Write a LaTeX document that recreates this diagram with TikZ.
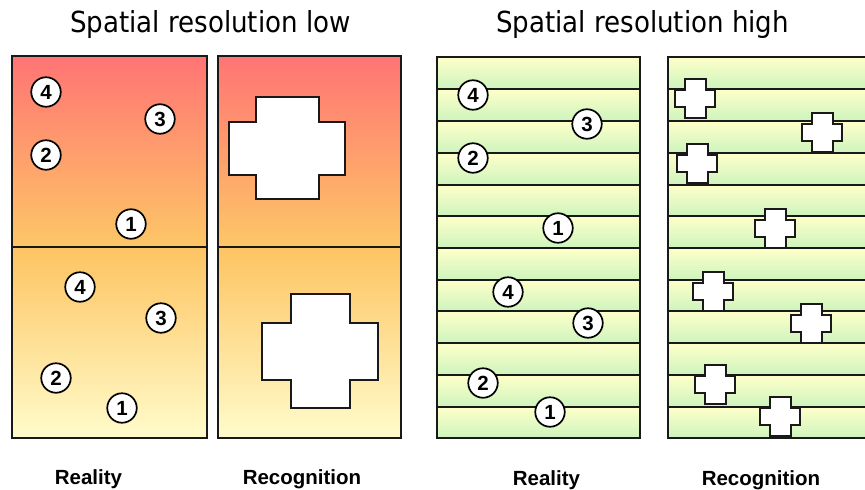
\documentclass[tikz,border=0pt]{standalone}
\usepackage{fontspec}
\setmainfont{Liberation Sans}
\newfontfamily\headfont[FakeStretch=0.9]{DejaVu Sans}
\usetikzlibrary{calc}

\definecolor{warmred}{HTML}{FF7474}
\definecolor{warmorange}{HTML}{FDC766}
\definecolor{warmyellow}{HTML}{FFFCCB}
\definecolor{stripyellow}{HTML}{FFFFC9}
\definecolor{stripgreen}{HTML}{CDF4BE}

% plus-shaped marker: centre (#1,#2), outer half width #3, arm half width #4,
% outer half height #5, arm half height #6
\newcommand\drawplus[6]{%
  \draw[plusmark] (#1-#4,#2-#5) -- (#1+#4,#2-#5) -- (#1+#4,#2-#6) -- (#1+#3,#2-#6)
    -- (#1+#3,#2+#6) -- (#1+#4,#2+#6) -- (#1+#4,#2+#5) -- (#1-#4,#2+#5)
    -- (#1-#4,#2+#6) -- (#1-#3,#2+#6) -- (#1-#3,#2-#6) -- (#1-#4,#2-#6) -- cycle;}

\begin{document}
\begin{tikzpicture}[x=1pt,y=-1pt,
  frame/.style={draw=black!90,line width=2pt},
  plusmark/.style={draw=black!90,line width=2pt,fill=white,line join=miter},
  num/.style={circle,draw=black,line width=1.7pt,fill=white,inner sep=0pt,
    minimum size=29.5pt,font=\bfseries\fontsize{20.5}{20.5}\selectfont},
  title/.style={font=\headfont\fontsize{29}{29}\selectfont,anchor=base},
  caption/.style={font=\bfseries\fontsize{20.5}{20.5}\selectfont,anchor=base}]
\useasboundingbox (0,0) rectangle (865,490);

% ---- low resolution: two coarse cells per panel ----
\foreach \xa/\xb in {12/207,218/401}{
  \shade[top color=warmred,bottom color=warmorange] (\xa,56) rectangle (\xb,247);
  \shade[top color=warmorange!95!orange,bottom color=warmyellow] (\xa,247) rectangle (\xb,438);
  \draw[frame] (\xa,56) rectangle (\xb,247);
  \draw[frame] (\xa,247) rectangle (\xb,438);
}

% ---- high resolution: twelve narrow strips per panel ----
\foreach \ya/\yb in {57/89,89/121,121/153,153/185,185/216,216/248,
                     248/280,280/311,311/343,343/375,375/407,407/438}{
  \shade[top color=stripyellow,bottom color=stripgreen] (437,\ya) rectangle (640,\yb);
  \draw[frame] (437,\ya) rectangle (640,\yb);
  \shade[top color=stripyellow,bottom color=stripgreen] (668,\ya) rectangle (872,\yb);
  \draw[frame] (668,\ya) rectangle (872,\yb);
}

% ---- objects as they are in reality ----
\node[num] (la4) at (46,92)   {4};
\node[num] (la3) at (160,119) {3};
\node[num] (la2) at (46,155)  {2};
\node[num] (la1) at (131,224) {1};
\node[num] (lb4) at (80,287)  {4};
\node[num] (lb3) at (161,318) {3};
\node[num] (lb2) at (56,378)  {2};
\node[num] (lb1) at (122,408) {1};

\node[num] (ha4) at (473,95)  {4};
\node[num] (ha3) at (587,124) {3};
\node[num] (ha2) at (473,158) {2};
\node[num] (ha1) at (558,228) {1};
\node[num] (hb4) at (508,292) {4};
\node[num] (hb3) at (588,323) {3};
\node[num] (hb2) at (483,383) {2};
\node[num] (hb1) at (550,412) {1};

% ---- objects as they are recognised ----
\drawplus{287}{148}{58}{31.5}{51}{26.5}
\drawplus{320}{351}{58}{29.5}{57}{28.5}

\foreach \cx/\cy in {695/98,822/132,697/163,775/228,713/291,811/323,715/384,780/416}{
  \drawplus{\cx}{\cy}{20}{10.5}{19.5}{8.5}
}

% ---- headings and captions ----
\node[title] (tlow)  at (210.5,32) {Spatial resolution low};
\node[title] (thigh) at (642.5,32) {Spatial resolution high};
\node[caption] (c1) at (88.5,484) {Reality};
\node[caption] (c2) at (302,484)  {Recognition};
\node[caption] (c3) at (546.5,485) {Reality};
\node[caption] (c4) at (761,485)  {Recognition};
\end{tikzpicture}
\end{document}
